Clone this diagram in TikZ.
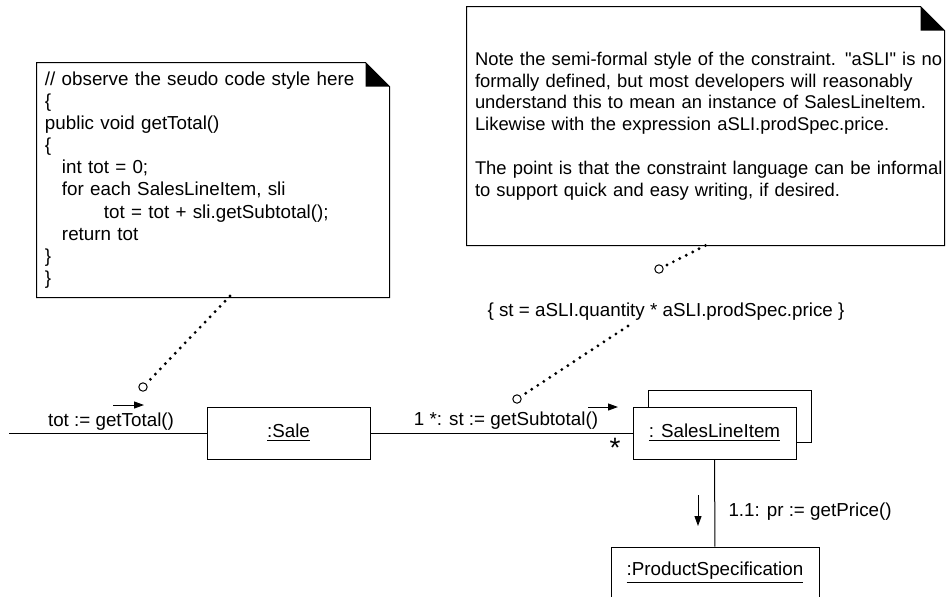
\documentclass[tikz,border=0pt]{standalone}
\usepackage{fontspec}
\setmainfont[Ligatures=TeXOff]{Liberation Sans}
\usetikzlibrary{arrows.meta}

\tikzset{
  obj/.style={draw, fill=white, minimum width=81.5pt, minimum height=26pt, inner sep=0pt},
  note/.style={align=left, inner xsep=4pt, inner ysep=0pt},
  dots/.style={line width=1.6pt, dash pattern=on 0pt off 3.6pt, line cap=round},
  pin/.style={circle, draw, fill=white, minimum size=4.2pt, inner sep=0pt},
  msg/.style={-{Triangle[length=5pt,width=3.5pt]}},
  lbl/.style={inner sep=0pt}
}

\begin{document}
\begin{tikzpicture}[x=0.5pt, y=-0.5pt, line width=0.5pt, font=\fontsize{9.4}{11.05}\selectfont]
  \useasboundingbox (0,0) rectangle (949,596);
  \clip (0,0) rectangle (949,596);

  % notes
  \node[note, text width=168pt, minimum height=117pt] (noteL) at (213,180)
    {\mbox{// observe the seudo code style here}\\
     \{\\
     public void getTotal()\\
     \{\\
     \hspace*{8.5pt}int tot = 0;\\
     \hspace*{8.5pt}for each SalesLineItem, sli\\
     \hspace*{29.5pt}\mbox{tot = tot + sli.getSubtotal();}\\
     \hspace*{8.5pt}return tot\\
     \}\\
     \}};
  \node[note, text width=230.5pt, minimum height=119pt, font=\fontsize{9.2}{10.9}\selectfont] (noteR) at (705.5,126)
    {\mbox{Note the semi-formal style of the constraint. "aSLI" is no}\\
     \mbox{formally defined, but most developers will reasonably}\\
     \mbox{understand this to mean an instance of SalesLineItem.}\\
     \mbox{Likewise with the expression aSLI.prodSpec.price.}\\[10.9pt]
     \mbox{The point is that the constraint language can be informal}\\
     \mbox{to support quick and easy writing, if desired.}};
  \foreach \n in {noteL,noteR} {
    \draw (\n.north west) -- ([xshift=-12pt]\n.north east) -- ([yshift=-12pt]\n.north east)
      -- (\n.south east) -- (\n.south west) -- cycle;
    \fill ([xshift=-12pt]\n.north east) -- ([yshift=-12pt]\n.north east)
      -- ([xshift=-12pt,yshift=-12pt]\n.north east) -- cycle;
  }

  % objects
  \node[obj] (sale) at (288.5,433) {\underline{:Sale}};
  \node[obj] (sliB) at (729.5,416.5) {};
  \node[obj] (sliF) at (714.5,433) {\underline{: SalesLineItem}};
  \node[obj, minimum width=104pt] (spec) at (715,573) {\underline{:ProductSpecification}};

  % links
  \coordinate (start) at (9,433);
  \draw (start) -- (sale);
  \draw (sale) -- (sliF);
  \draw (sliF) -- (spec);

  % messages
  \node[lbl] (m0) at (111,422) {tot := getTotal()};
  \draw[msg] (113,405) -- (144,405);
  \node[lbl] (m1) at (506,421) {1 *: st := getSubtotal()};
  \draw[msg] (588,407) -- (618,407);
  \node[lbl, font=\fontsize{14}{14}\selectfont] (mult) at (615,448) {*};
  \node[lbl, anchor=west] (m2) at (728,512) {1.1: pr := getPrice()};
  \draw[msg] (698,495) -- (698,526);

  % constraint and note anchors
  \node[lbl] (con) at (666,312) {\{ st = aSLI.quantity * aSLI.prodSpec.price \}};
  \node[pin] (pinL) at (143,387) {};
  \node[pin] (pinC) at (517,399) {};
  \node[pin] (pinR) at (659,269) {};
  \coordinate (tipL) at (230,296);
  \coordinate (tipC) at (628,326);
  \draw[dots] (tipL) -- (pinL);
  \draw[dots] (tipC) -- (pinC);
  \draw[dots] (noteR.south) -- (pinR);
\end{tikzpicture}
\end{document}
